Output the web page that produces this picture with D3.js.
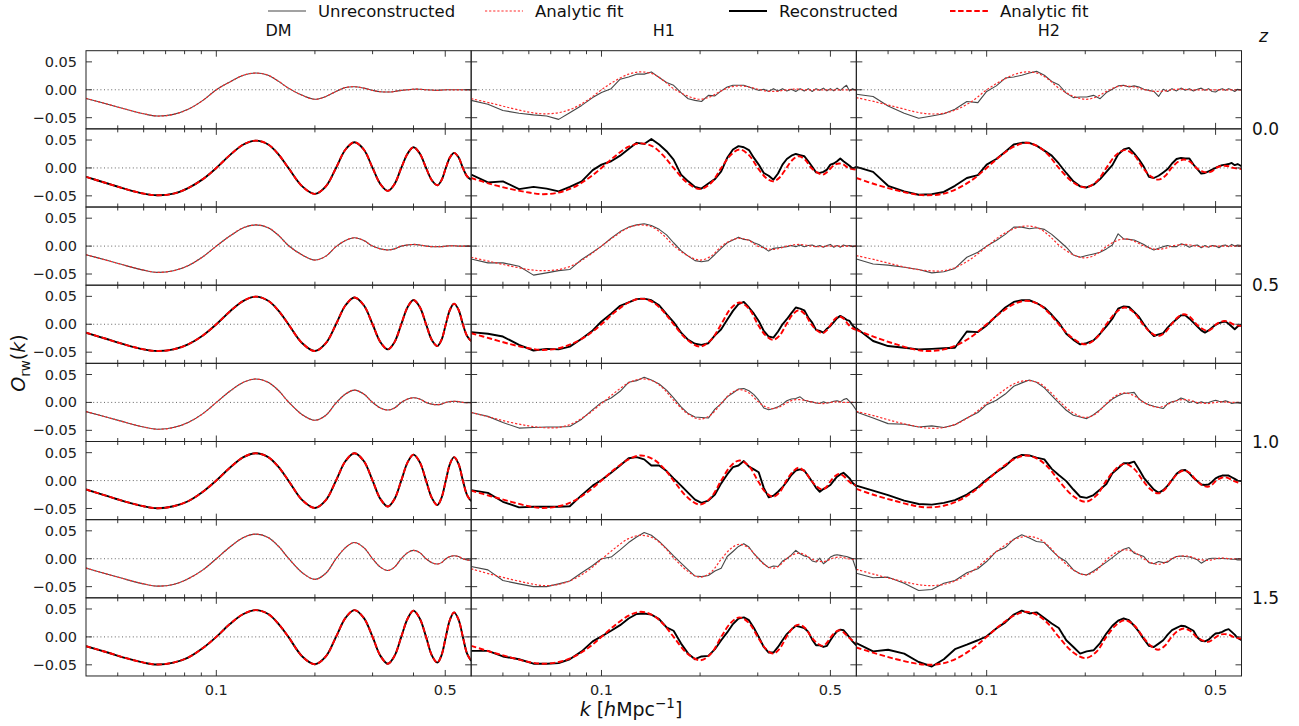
<!DOCTYPE html>
<html>
<head>
<meta charset="utf-8">
<script src="https://cdn.jsdelivr.net/npm/d3@7"></script>
<style>
  body { margin: 0; background: #fff; }
  svg { display: block; font-family: "DejaVu Sans", sans-serif; }
</style>
</head>
<body>
<div id="chart"></div>
<script>
// k grid of the smooth curves (DM measurements and all analytic fits)
const kFit = [0.040,0.046,0.053,0.060,0.066,0.074,0.082,0.091,0.100,0.110,0.121,0.132,0.144,0.155,0.166,0.183,0.200,0.216,0.232,0.248,0.264,0.282,0.300,0.317,0.334,0.350,0.367,0.384,0.400,0.418,0.437,0.455,0.473,0.487,0.502,0.517,0.532,0.549,0.566,0.583,0.600];
// k grid of the noisy halo measurements (H1, H2)
const kData = [0.040,0.045,0.050,0.056,0.062,0.068,0.074,0.080,0.087,0.094,
  0.100,0.107,0.114,0.121,0.128,0.135,0.142,0.150,0.158,0.166,
  0.175,0.184,0.193,0.202,0.212,0.222,0.232,0.242,0.252,0.262,
  0.272,0.282,0.292,0.302,0.313,0.324,0.335,0.346,0.357,0.368,
  0.380,0.392,0.404,0.416,0.428,0.440,0.452,0.464,0.476,0.488,
  0.500,0.512,0.524,0.536,0.548,0.560,0.572,0.584,0.600];

// DM: measurement and fit sit on top of each other
const dmU0  = [-0.0155,-0.025,-0.035,-0.043,-0.047,-0.044,-0.035,-0.019,0.000,0.014,0.026,0.030,0.026,0.015,0.003,-0.010,-0.017,-0.012,-0.003,0.004,0.0055,0.003,-0.001,-0.0035,-0.004,-0.003,-0.001,0.000,0.001,0.001,0.000,-0.0005,-0.001,-0.0005,0,0,0,0,0,0,0];
const dmR0  = [-0.016,-0.027,-0.038,-0.046,-0.049,-0.046,-0.036,-0.020,0.000,0.023,0.042,0.049,0.042,0.024,0.000,-0.033,-0.0465,-0.033,0.000,0.033,0.046,0.033,0.000,-0.029,-0.041,-0.029,0.000,0.026,0.037,0.026,0.000,-0.022,-0.031,-0.022,0.000,0.019,0.027,0.019,0.000,-0.015,-0.021];
const dmU05 = [-0.0155,-0.025,-0.035,-0.043,-0.047,-0.044,-0.035,-0.019,0.000,0.018,0.033,0.038,0.033,0.019,0.001,-0.016,-0.025,-0.018,-0.001,0.010,0.015,0.010,0.000,-0.005,-0.007,-0.005,0.000,0.002,0.003,0.002,0.000,-0.001,-0.001,-0.001,0,0.0005,0.0005,0,0,0,0];
const dmR05 = [-0.015,-0.026,-0.037,-0.045,-0.048,-0.045,-0.036,-0.020,0.000,0.023,0.042,0.0495,0.042,0.024,0.000,-0.034,-0.048,-0.034,0.000,0.034,0.048,0.034,0.000,-0.032,-0.045,-0.032,0.000,0.031,0.0435,0.031,0.000,-0.028,-0.039,-0.028,0.000,0.026,0.037,0.026,0.000,-0.021,-0.030];
const dmU10 = [-0.0165,-0.026,-0.036,-0.044,-0.048,-0.045,-0.036,-0.020,0.000,0.020,0.036,0.042,0.036,0.021,0.001,-0.022,-0.032,-0.023,-0.001,0.015,0.022,0.015,0.000,-0.010,-0.0137,-0.010,0.000,0.006,0.0084,0.006,0.000,-0.003,-0.004,-0.003,0.000,0.0015,0.002,0.0015,0.000,-0.0005,-0.0005];
const dmR10 = [-0.016,-0.027,-0.038,-0.046,-0.0495,-0.046,-0.037,-0.020,0.000,0.023,0.042,0.049,0.042,0.024,0.000,-0.035,-0.049,-0.035,0.000,0.035,0.049,0.035,0.000,-0.033,-0.0465,-0.033,0.000,0.033,0.0465,0.033,0.000,-0.031,-0.044,-0.031,0.000,0.030,0.042,0.030,0.000,-0.026,-0.037];
const dmU15 = [-0.0167,-0.027,-0.037,-0.045,-0.049,-0.046,-0.036,-0.020,0.000,0.021,0.038,0.044,0.038,0.022,0.001,-0.025,-0.037,-0.026,0.000,0.020,0.029,0.020,0.000,-0.015,-0.021,-0.015,0.000,0.011,0.015,0.011,0.000,-0.007,-0.0095,-0.007,0.000,0.004,0.0054,0.004,0.000,-0.002,-0.0024];
const dmR15 = [-0.0167,-0.027,-0.038,-0.046,-0.0495,-0.046,-0.037,-0.020,0.000,0.023,0.041,0.048,0.041,0.023,0.000,-0.035,-0.049,-0.035,0.000,0.034,0.048,0.034,0.000,-0.034,-0.048,-0.034,0.000,0.033,0.047,0.033,0.000,-0.033,-0.046,-0.033,0.000,0.031,0.044,0.031,0.000,-0.030,-0.043];

// H1 measurements
const h1U0  = [-0.019,-0.026,-0.037,-0.042,-0.045,-0.047,-0.053,-0.041,-0.028,-0.014, -0.005,0.002,0.019,0.023,0.028,0.028,0.032,0.022,0.013,0.008, -0.005,-0.016,-0.019,-0.021,-0.010,-0.011,-0.002,0.005,0.008,0.008, 0.008,0.005,0.002,-0.001,0.001,-0.003,0.002,-0.002,0.002,-0.002, 0.001,-0.003,0.002,-0.002,0.002,-0.003,0.002,-0.001,0.003,-0.002, 0.002,-0.002,0.003,-0.001,0.004,0.008,-0.002,0.002,-0.001];
const h1R0  = [-0.012,-0.026,-0.024,-0.038,-0.034,-0.037,-0.042,-0.034,-0.024,-0.004, 0.006,0.012,0.022,0.034,0.045,0.043,0.052,0.042,0.030,0.015, -0.012,-0.024,-0.034,-0.037,-0.028,-0.020,-0.006,0.018,0.033,0.039, 0.037,0.032,0.018,0.006,-0.009,-0.014,-0.021,-0.010,0.006,0.016, 0.022,0.025,0.023,0.021,0.012,0.002,-0.008,-0.009,-0.007,-0.003, 0.006,0.008,0.012,0.017,0.012,0.008,0.004,-0.001,0.002];
const h1U05 = [-0.023,-0.030,-0.030,-0.036,-0.052,-0.048,-0.044,-0.042,-0.024,-0.011, 0.000,0.014,0.026,0.034,0.038,0.040,0.037,0.030,0.020,0.006, -0.008,-0.018,-0.026,-0.028,-0.026,-0.015,-0.004,0.006,0.011,0.016, 0.012,0.011,0.006,0.003,-0.003,-0.009,-0.004,-0.003,-0.002,-0.001, 0.001,-0.001,0.002,-0.001,0.001,0.002,-0.001,0.001,-0.002,0.001, 0.003,-0.002,0.001,-0.002,0.002,0.000,0.001,-0.001,0.000];
const h1R05 = [-0.014,-0.017,-0.022,-0.037,-0.047,-0.044,-0.045,-0.040,-0.026,-0.011, 0.005,0.019,0.033,0.039,0.045,0.046,0.043,0.034,0.018,0.004, -0.015,-0.028,-0.035,-0.037,-0.034,-0.020,-0.009,0.008,0.024,0.036, 0.040,0.030,0.019,0.006,-0.012,-0.022,-0.024,-0.013,0.000,0.009, 0.020,0.030,0.028,0.025,0.012,0.003,-0.010,-0.012,-0.015,-0.008, -0.003,0.004,0.011,0.015,0.012,0.008,0.006,-0.002,-0.009];
const h1U10 = [-0.018,-0.025,-0.036,-0.046,-0.045,-0.044,-0.044,-0.043,-0.030,-0.013, 0.000,0.008,0.020,0.036,0.039,0.045,0.040,0.033,0.022,0.008, -0.008,-0.020,-0.026,-0.027,-0.028,-0.012,-0.002,0.010,0.017,0.024, 0.025,0.021,0.014,0.004,-0.010,-0.013,-0.011,-0.008,-0.003,0.003, 0.006,0.007,0.010,0.004,0.002,0.001,-0.001,-0.002,0.001,-0.001, 0.000,0.002,0.003,0.001,0.005,0.007,0.002,-0.004,-0.014];
const h1R10 = [-0.017,-0.022,-0.038,-0.048,-0.047,-0.047,-0.047,-0.046,-0.026,-0.009, 0.001,0.014,0.027,0.040,0.042,0.038,0.027,0.027,0.017,0.004, -0.009,-0.022,-0.034,-0.040,-0.036,-0.025,-0.005,0.011,0.024,0.027, 0.035,0.025,0.020,0.015,-0.013,-0.030,-0.027,-0.020,-0.012,-0.002, 0.010,0.018,0.020,0.018,0.008,-0.002,-0.013,-0.020,-0.015,-0.012, -0.008,0.000,0.007,0.011,0.014,0.009,0.004,-0.004,-0.010];
const h1U15 = [-0.014,-0.020,-0.039,-0.045,-0.050,-0.050,-0.045,-0.040,-0.025,-0.012, 0.000,0.003,0.016,0.029,0.039,0.047,0.042,0.031,0.018,0.005, -0.008,-0.020,-0.031,-0.032,-0.030,-0.022,-0.017,0.004,0.013,0.022, 0.027,0.021,0.009,0.000,-0.009,-0.016,-0.013,-0.014,-0.004,0.000, 0.007,0.015,0.009,0.005,0.003,-0.004,-0.006,0.001,-0.009,-0.004, 0.003,0.006,0.007,0.006,0.005,0.004,0.002,0.000,-0.020];
const h1R15 = [-0.025,-0.025,-0.035,-0.040,-0.048,-0.048,-0.047,-0.040,-0.026,-0.008, 0.001,0.011,0.021,0.033,0.041,0.042,0.040,0.032,0.017,0.011, -0.012,-0.030,-0.040,-0.035,-0.034,-0.022,-0.006,0.008,0.023,0.033, 0.035,0.030,0.016,0.000,-0.018,-0.028,-0.028,-0.018,-0.006,0.005, 0.013,0.020,0.018,0.016,0.009,-0.005,-0.015,-0.015,-0.018,-0.016, -0.006,0.003,0.010,0.013,0.012,0.006,-0.001,-0.008,-0.015];

// H1 analytic fits
const h1U0Fit  = [-0.016,-0.024,-0.033,-0.040,-0.043,-0.041,-0.033,-0.018,0.000,0.016,0.028,0.032,0.028,0.016,0.002,-0.011,-0.017,-0.012,-0.002,0.005,0.007,0.005,0.001,-0.002,-0.003,-0.002,0,0.001,0.001,0,0,0,0,0,0,0,0,0,0,0,0];
const h1R0Fit  = [-0.018,-0.029,-0.038,-0.044,-0.047,-0.044,-0.035,-0.019,0.000,0.021,0.038,0.044,0.038,0.021,0.000,-0.027,-0.038,-0.027,0.000,0.023,0.033,0.023,0.000,-0.017,-0.024,-0.017,0.000,0.015,0.021,0.015,0.000,-0.008,-0.012,-0.008,0.000,0.006,0.008,0.006,0.000,-0.002,-0.003];
const h1U05Fit = [-0.020,-0.028,-0.036,-0.042,-0.044,-0.042,-0.034,-0.018,0.000,0.018,0.033,0.038,0.033,0.019,0.001,-0.017,-0.025,-0.018,-0.001,0.010,0.014,0.010,0.000,-0.004,-0.006,-0.004,0,0.002,0.003,0.002,0,-0.001,-0.001,0,0,0,0,0,0,0,0];
const h1R05Fit = [-0.016,-0.026,-0.036,-0.043,-0.046,-0.043,-0.034,-0.019,0.000,0.022,0.039,0.046,0.039,0.022,0.000,-0.028,-0.040,-0.028,0.000,0.028,0.039,0.028,0.000,-0.020,-0.028,-0.020,0.000,0.018,0.025,0.018,0.000,-0.011,-0.016,-0.011,0.000,0.010,0.014,0.010,0.000,-0.007,-0.010];
const h1U10Fit = [-0.018,-0.027,-0.036,-0.042,-0.045,-0.045,-0.037,-0.021,-0.002,0.018,0.035,0.042,0.038,0.024,0.004,-0.020,-0.030,-0.022,-0.002,0.016,0.023,0.017,0.002,-0.008,-0.011,-0.008,-0.001,0.004,0.005,0.004,0.001,-0.001,-0.002,-0.001,0,0.001,0.001,0,0,0,0];
const h1R10Fit = [-0.018,-0.028,-0.038,-0.046,-0.049,-0.046,-0.037,-0.020,0.000,0.021,0.038,0.045,0.038,0.022,0.000,-0.030,-0.043,-0.030,0.000,0.026,0.036,0.026,0.000,-0.021,-0.029,-0.021,0.000,0.016,0.023,0.016,0.000,-0.011,-0.016,-0.011,0.000,0.008,0.012,0.008,0.000,-0.006,-0.009];
const h1U15Fit = [-0.018,-0.028,-0.037,-0.044,-0.048,-0.046,-0.037,-0.021,-0.001,0.019,0.036,0.042,0.037,0.022,0.002,-0.022,-0.033,-0.024,-0.001,0.018,0.026,0.019,0.001,-0.012,-0.017,-0.012,0.000,0.007,0.010,0.007,0.000,-0.004,-0.005,-0.004,0.000,0.002,0.003,0.002,0,-0.001,-0.001];
const h1R15Fit = [-0.016,-0.027,-0.037,-0.045,-0.048,-0.045,-0.036,-0.020,0.000,0.021,0.038,0.045,0.038,0.022,0.000,-0.030,-0.042,-0.030,0.000,0.025,0.035,0.025,0.000,-0.021,-0.030,-0.021,0.000,0.016,0.022,0.016,0.000,-0.011,-0.016,-0.011,0.000,0.008,0.012,0.008,0.000,-0.006,-0.010];

// H2 measurements
const h2U0  = [-0.008,-0.012,-0.029,-0.042,-0.051,-0.047,-0.043,-0.035,-0.021,-0.023, -0.003,0.007,0.021,0.023,0.026,0.030,0.033,0.026,0.015,0.009, -0.006,-0.014,-0.013,-0.013,-0.010,-0.016,-0.005,0.001,0.007,0.008, 0.005,0.007,0.005,0.001,-0.001,-0.003,-0.012,0.001,-0.003,0.002, -0.002,0.003,-0.001,0.002,-0.002,0.001,0.003,-0.001,0.002,-0.003, -0.004,0.000,0.002,-0.001,0.002,0.000,-0.003,0.001,-0.001];
const h2R0  = [0.002,-0.007,-0.032,-0.042,-0.048,-0.047,-0.043,-0.032,-0.018,-0.013, 0.006,0.016,0.029,0.042,0.045,0.045,0.040,0.031,0.022,0.008, -0.009,-0.024,-0.033,-0.035,-0.030,-0.020,-0.007,0.005,0.024,0.033, 0.036,0.026,0.015,0.002,-0.016,-0.018,-0.014,-0.008,-0.002,0.008, 0.016,0.018,0.017,0.017,0.006,-0.002,-0.010,-0.009,-0.006,-0.003, 0.000,0.003,0.005,0.006,0.007,0.009,0.005,0.007,0.003];
const h2U05 = [-0.023,-0.032,-0.034,-0.038,-0.042,-0.048,-0.046,-0.040,-0.020,-0.011, 0.000,0.010,0.021,0.034,0.034,0.031,0.033,0.030,0.021,0.010, -0.002,-0.016,-0.020,-0.017,-0.014,-0.011,-0.005,0.002,0.022,0.013, 0.012,0.011,0.007,0.003,-0.003,-0.007,-0.004,-0.001,0.001,-0.001, -0.001,0.004,0.002,-0.002,0.001,0.002,-0.003,0.001,-0.002,0.001, 0.000,-0.003,0.001,0.002,-0.001,0.003,0.000,0.002,0.001];
const h2R05 = [-0.007,-0.030,-0.039,-0.042,-0.045,-0.044,-0.043,-0.042,-0.013,-0.014, -0.002,0.015,0.030,0.040,0.043,0.043,0.038,0.030,0.017,0.003, -0.017,-0.028,-0.036,-0.034,-0.029,-0.017,-0.004,0.010,0.028,0.032, 0.031,0.022,0.013,0.000,-0.012,-0.021,-0.018,-0.016,-0.006,0.002, 0.009,0.016,0.016,0.010,0.003,-0.004,-0.011,-0.015,-0.011,-0.006, -0.001,0.002,0.004,0.005,0.001,-0.004,-0.009,-0.004,-0.001];
const h2U10 = [-0.017,-0.028,-0.038,-0.039,-0.044,-0.042,-0.045,-0.040,-0.028,-0.018, -0.004,0.004,0.015,0.029,0.035,0.040,0.036,0.026,0.012,-0.001, -0.014,-0.023,-0.026,-0.029,-0.022,-0.013,-0.003,0.006,0.012,0.016, 0.017,0.018,0.006,0.000,-0.004,-0.007,-0.009,-0.011,-0.002,0.001, 0.003,0.008,0.005,0.000,0.002,-0.002,0.001,-0.001,0.000,0.002, 0.004,0.002,0.001,0.003,0.001,-0.002,-0.001,-0.001,-0.002];
const h2R10 = [-0.009,-0.018,-0.026,-0.036,-0.042,-0.043,-0.040,-0.035,-0.025,-0.012, 0.002,0.015,0.026,0.040,0.046,0.045,0.041,0.038,0.021,0.010, -0.001,-0.016,-0.029,-0.031,-0.026,-0.016,-0.006,0.013,0.022,0.031, 0.031,0.034,0.020,0.005,-0.006,-0.016,-0.022,-0.017,-0.009,0.001, 0.012,0.018,0.019,0.013,0.005,-0.001,-0.007,-0.008,-0.007,-0.002, 0.004,0.007,0.009,0.009,0.009,0.006,0.003,0.000,-0.001];
const h2U15 = [-0.026,-0.034,-0.033,-0.044,-0.057,-0.055,-0.044,-0.039,-0.025,-0.018, -0.005,0.013,0.020,0.035,0.043,0.037,0.031,0.029,0.015,0.003, -0.005,-0.020,-0.027,-0.029,-0.022,-0.014,-0.006,0.002,0.010,0.017, 0.020,0.010,0.007,0.004,-0.007,-0.009,-0.005,-0.007,-0.006,0.000, 0.004,0.005,0.004,0.003,0.001,-0.002,-0.008,-0.004,0.000,0.001, 0.001,0.000,0.001,0.000,0.000,-0.001,-0.001,-0.002,-0.002];
const h2R15 = [-0.011,-0.026,-0.023,-0.030,-0.045,-0.053,-0.040,-0.022,-0.014,-0.006, 0.001,0.015,0.026,0.040,0.047,0.042,0.044,0.034,0.024,0.016, -0.006,-0.018,-0.030,-0.026,-0.024,-0.011,0.006,0.020,0.029,0.033, 0.030,0.020,0.009,-0.004,-0.016,-0.018,-0.012,-0.006,0.004,0.012, 0.016,0.020,0.019,0.015,0.011,-0.001,-0.007,-0.008,-0.005,0.001, 0.006,0.007,0.009,0.012,0.014,0.009,0.004,-0.002,-0.006];

// H2 analytic fits
const h2U0Fit  = [-0.014,-0.022,-0.031,-0.039,-0.043,-0.042,-0.034,-0.019,0.000,0.015,0.027,0.032,0.029,0.018,0.003,-0.011,-0.017,-0.013,-0.003,0.005,0.007,0.005,0.001,-0.002,-0.003,-0.002,0,0.001,0.001,0,0,0,0,0,0,0,0,0,0,0,0];
const h2R0Fit  = [-0.018,-0.030,-0.040,-0.047,-0.049,-0.046,-0.036,-0.020,0.000,0.021,0.038,0.045,0.038,0.022,0.000,-0.025,-0.035,-0.025,0.000,0.023,0.032,0.023,0.000,-0.015,-0.021,-0.015,0.000,0.011,0.015,0.011,0.000,-0.006,-0.008,-0.006,0.000,0.003,0.004,0.003,0.000,-0.001,-0.002];
const h2U05Fit = [-0.017,-0.025,-0.034,-0.041,-0.044,-0.044,-0.036,-0.020,-0.001,0.018,0.031,0.036,0.032,0.019,0.002,-0.015,-0.021,-0.015,-0.001,0.009,0.013,0.009,0.001,-0.004,-0.006,-0.004,0,0.002,0.003,0.002,0,-0.001,-0.001,0,0,0,0,0,0,0,0];
const h2R05Fit = [-0.010,-0.024,-0.036,-0.045,-0.048,-0.045,-0.036,-0.020,0.000,0.020,0.036,0.042,0.036,0.020,0.000,-0.025,-0.036,-0.025,0.000,0.021,0.030,0.021,0.000,-0.015,-0.021,-0.015,0.000,0.013,0.018,0.013,0.000,-0.008,-0.012,-0.008,0.000,0.004,0.006,0.004,0.000,-0.002,-0.003];
const h2U10Fit = [-0.016,-0.025,-0.035,-0.042,-0.046,-0.045,-0.037,-0.021,-0.002,0.017,0.033,0.039,0.035,0.021,0.003,-0.018,-0.027,-0.020,-0.002,0.012,0.017,0.012,0.001,-0.006,-0.009,-0.006,0.000,0.004,0.005,0.004,0,-0.001,-0.002,-0.001,0,0.001,0.001,0,0,0,0];
const h2R10Fit = [-0.015,-0.027,-0.037,-0.045,-0.048,-0.045,-0.036,-0.020,0.000,0.021,0.038,0.045,0.038,0.022,0.000,-0.027,-0.038,-0.027,0.000,0.021,0.030,0.021,0.000,-0.016,-0.023,-0.016,0.000,0.013,0.018,0.013,0.000,-0.008,-0.011,-0.008,0.000,0.004,0.006,0.004,0.000,-0.003,-0.005];
const h2U15Fit = [-0.019,-0.029,-0.038,-0.045,-0.048,-0.046,-0.037,-0.021,-0.001,0.018,0.034,0.040,0.036,0.022,0.003,-0.019,-0.029,-0.021,-0.002,0.011,0.016,0.012,0.001,-0.007,-0.010,-0.007,0.000,0.004,0.005,0.004,0.000,-0.002,-0.003,-0.002,0,0.001,0.001,0,0,0,0];
const h2R15Fit = [-0.019,-0.030,-0.040,-0.047,-0.050,-0.047,-0.037,-0.020,0.000,0.021,0.038,0.045,0.038,0.022,0.000,-0.027,-0.038,-0.027,0.000,0.021,0.030,0.021,0.000,-0.016,-0.023,-0.016,0.000,0.011,0.015,0.011,0.000,-0.006,-0.009,-0.006,0.000,0.004,0.005,0.004,0.000,-0.002,-0.003];

const columns = ["DM", "H1", "H2"];
const zLabels = ["0.0", "0.5", "1.0", "1.5"];
const yTicks = [-0.05, 0, 0.05];
const xMajor = [0.1, 0.5];
const xMinor = [0.05, 0.06, 0.07, 0.08, 0.09, 0.2, 0.3, 0.4];
const legendLabels = ["Unreconstructed", "Analytic fit", "Reconstructed", "Analytic fit"];

// per row lists, unreconstructed / reconstructed alternate, z = 0, 0.5, 1, 1.5
const dmRows = [dmU0, dmR0, dmU05, dmR05, dmU10, dmR10, dmU15, dmR15];
const h1Rows = [h1U0, h1R0, h1U05, h1R05, h1U10, h1R10, h1U15, h1R15];
const h1Fits = [h1U0Fit, h1R0Fit, h1U05Fit, h1R05Fit, h1U10Fit, h1R10Fit, h1U15Fit, h1R15Fit];
const h2Rows = [h2U0, h2R0, h2U05, h2R05, h2U10, h2R10, h2U15, h2R15];
const h2Fits = [h2U0Fit, h2R0Fit, h2U05Fit, h2R05Fit, h2U10Fit, h2R10Fit, h2U15Fit, h2R15Fit];

// layout
var W = 1299, H = 726;
var gridLeft = 86, gridTop = 50.7, colW = 385.17, rowH = 78.16;

var svg = d3.select("#chart").append("svg")
  .attr("width", W).attr("height", H);

var x = d3.scaleLog().domain([0.04, 0.6]).range([0, colW]);
var y = d3.scaleLinear().domain([-0.07, 0.07]).range([rowH, 0]);

var styles = {
  unrec:    {stroke: "#474747", width: 1.1, dash: null},
  unrecFit: {stroke: "#ff2a2a", width: 1.2, dash: "2.2,1.9"},
  rec:      {stroke: "#000", width: 1.9, dash: null},
  recFit:   {stroke: "#ff0000", width: 1.9, dash: "5.5,2.6"}
};

// table of panels built from the arrays
var panels = [];
for (var r = 0; r < 8; r++) {
  var recon = r % 2 === 1;
  panels.push({row: r, col: 0, recon: recon, k: kFit, data: dmRows[r], fit: dmRows[r], smooth: true});
  panels.push({row: r, col: 1, recon: recon, k: kData, data: h1Rows[r], fit: h1Fits[r], smooth: false});
  panels.push({row: r, col: 2, recon: recon, k: kData, data: h2Rows[r], fit: h2Fits[r], smooth: false});
}

var defs = svg.append("defs");
defs.append("clipPath").attr("id", "clip")
  .append("rect").attr("width", colW).attr("height", rowH);

function lineFor(kArr, smooth) {
  return d3.line()
    .x(function(d, i) { return x(kArr[i]); })
    .y(function(d) { return y(d); })
    .curve(smooth ? d3.curveCatmullRom.alpha(0.5) : d3.curveLinear);
}

panels.forEach(function(p) {
  var g = svg.append("g")
    .attr("transform", "translate(" + (gridLeft + p.col * colW) + "," + (gridTop + p.row * rowH) + ")");
  var inner = g.append("g").attr("clip-path", "url(#clip)");

  // dotted zero line
  inner.append("line")
    .attr("x1", 0).attr("x2", colW)
    .attr("y1", y(0)).attr("y2", y(0))
    .attr("stroke", "#555").attr("stroke-width", 0.9)
    .attr("stroke-dasharray", "1,2.6");

  var ds = p.recon ? styles.rec : styles.unrec;
  var fs = p.recon ? styles.recFit : styles.unrecFit;

  inner.append("path")
    .datum(p.data)
    .attr("fill", "none")
    .attr("stroke", ds.stroke)
    .attr("stroke-width", ds.width)
    .attr("stroke-linejoin", "round")
    .attr("d", lineFor(p.k, p.smooth));

  inner.append("path")
    .datum(p.fit)
    .attr("fill", "none")
    .attr("stroke", fs.stroke)
    .attr("stroke-width", fs.width)
    .attr("stroke-dasharray", fs.dash)
    .attr("d", lineFor(kFit, true));

  // inward ticks on all four sides
  var tk = g.append("g").attr("stroke", "#222").attr("stroke-width", 0.9);
  xMajor.concat(xMinor).forEach(function(v) {
    var len = xMajor.indexOf(v) >= 0 ? 6 : 3.5;
    tk.append("line").attr("x1", x(v)).attr("x2", x(v)).attr("y1", rowH).attr("y2", rowH - len);
    tk.append("line").attr("x1", x(v)).attr("x2", x(v)).attr("y1", 0).attr("y2", len);
  });
  yTicks.forEach(function(v) {
    tk.append("line").attr("x1", 0).attr("x2", 6).attr("y1", y(v)).attr("y2", y(v));
    tk.append("line").attr("x1", colW).attr("x2", colW - 6).attr("y1", y(v)).attr("y2", y(v));
  });

  g.append("rect")
    .attr("width", colW).attr("height", rowH)
    .attr("fill", "none").attr("stroke", "#222").attr("stroke-width", 1);

  // tick labels
  if (p.col === 0) {
    yTicks.forEach(function(v) {
      g.append("text")
        .attr("x", -9).attr("y", y(v))
        .attr("dy", "0.35em")
        .attr("text-anchor", "end")
        .attr("font-size", 14.5)
        .attr("fill", "#222")
        .text(d3.format(".2f")(v).replace("-", "\u2212"));
    });
  }
  if (p.row === 7) {
    xMajor.forEach(function(v) {
      g.append("text")
        .attr("x", x(v)).attr("y", rowH + 19)
        .attr("text-anchor", "middle")
        .attr("font-size", 14.5)
        .attr("fill", "#222")
        .text(String(v));
    });
  }
});

// column titles
columns.forEach(function(c, i) {
  svg.append("text")
    .attr("x", gridLeft + (i + 0.5) * colW).attr("y", 36)
    .attr("text-anchor", "middle")
    .attr("font-size", 16)
    .attr("fill", "#111")
    .text(c);
});

// redshift labels on the right
svg.append("text")
  .attr("x", 1259).attr("y", 42)
  .attr("font-size", 17).attr("font-style", "italic")
  .attr("fill", "#111")
  .text("z");
zLabels.forEach(function(z, i) {
  svg.append("text")
    .attr("x", 1252).attr("y", gridTop + (2 * i + 1) * rowH)
    .attr("dy", "0.36em")
    .attr("font-size", 17)
    .attr("fill", "#111")
    .text(z);
});

// axis labels
var yl = svg.append("text")
  .attr("transform", "translate(25,363) rotate(-90)")
  .attr("text-anchor", "middle")
  .attr("font-size", 19)
  .attr("fill", "#111");
yl.append("tspan").attr("font-style", "italic").text("O");
yl.append("tspan").attr("font-size", 13.5).attr("dy", 4.5).text("rw");
yl.append("tspan").attr("dy", -4.5).text("(");
yl.append("tspan").attr("font-style", "italic").text("k");
yl.append("tspan").text(")");

var xl = svg.append("text")
  .attr("x", 631).attr("y", 716)
  .attr("text-anchor", "middle")
  .attr("font-size", 19)
  .attr("fill", "#111");
xl.append("tspan").attr("font-style", "italic").text("k");
xl.append("tspan").text(" [");
xl.append("tspan").attr("font-style", "italic").text("h");
xl.append("tspan").text("Mpc");
xl.append("tspan").attr("font-size", 13.5).attr("dy", -8).text("\u22121");
xl.append("tspan").attr("dy", 8).text("]");

// legend across the top
var legendStyles = [styles.unrec, styles.unrecFit, styles.rec, styles.recFit];
var legendX = [268, 485, 729, 950];
legendLabels.forEach(function(lab, i) {
  var s = legendStyles[i];
  var gx = legendX[i];
  svg.append("line")
    .attr("x1", gx).attr("x2", gx + 38)
    .attr("y1", 11).attr("y2", 11)
    .attr("stroke", s.stroke)
    .attr("stroke-width", s.width)
    .attr("stroke-dasharray", s.dash);
  svg.append("text")
    .attr("x", gx + 50).attr("y", 11)
    .attr("dy", "0.35em")
    .attr("font-size", 16.5)
    .attr("fill", "#111")
    .text(lab);
});
</script>
</body>
</html>
